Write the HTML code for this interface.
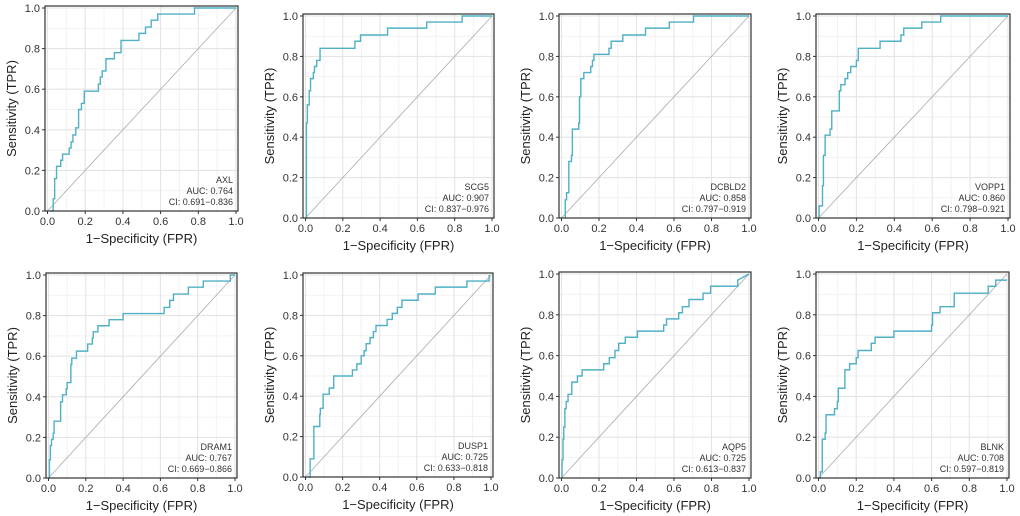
<!DOCTYPE html>
<html><head><meta charset="utf-8">
<style>
html,body{margin:0;padding:0;background:#fff;}
svg{display:block;font-family:"Liberation Sans",Arial,sans-serif;}
</style></head>
<body>
<svg id="chart" width="1020" height="516" viewBox="0 0 1020 516" xmlns="http://www.w3.org/2000/svg"></svg>
<script>
const genes = ["AXL","SCG5","DCBLD2","VOPP1","DRAM1","DUSP1","AQP5","BLNK"];
const aucs = ["0.764","0.907","0.858","0.860","0.767","0.725","0.725","0.708"];
const cis = ["0.691-0.836","0.837-0.976","0.797-0.919","0.798-0.921","0.669-0.866","0.633-0.818","0.613-0.837","0.597-0.819"];
const ticks = [0,0.2,0.4,0.6,0.8,1.0];
const tickLabels = ["0.0","0.2","0.4","0.6","0.8","1.0"];

const fprAXL = [0.018,0.03,0.038,0.048,0.07,0.08,0.115,0.125,0.135,0.15,0.165,0.18,0.195,0.27,0.28,0.29,0.31,0.355,0.39,0.485,0.52,0.55,0.585,0.78,1.0];
const tprAXL = [0,0.06,0.16,0.22,0.25,0.28,0.31,0.34,0.375,0.41,0.5,0.53,0.59,0.625,0.66,0.69,0.75,0.78,0.84,0.875,0.906,0.94,0.97,1.0,1.0];
const fprSCG5 = [0,0.005,0.01,0.02,0.027,0.042,0.048,0.06,0.078,0.265,0.295,0.44,0.65,0.84,1.0];
const tprSCG5 = [0,0.47,0.56,0.63,0.69,0.72,0.75,0.78,0.84,0.875,0.906,0.94,0.97,1.0,1.0];
const fprDCBLD2 = [0.018,0.02,0.027,0.039,0.053,0.058,0.092,0.096,0.103,0.119,0.156,0.165,0.173,0.253,0.265,0.327,0.448,0.575,0.704,1.0];
const tprDCBLD2 = [0,0.09,0.125,0.28,0.31,0.44,0.47,0.6,0.69,0.72,0.75,0.78,0.81,0.84,0.875,0.906,0.94,0.97,1.0,1.0];
const fprVOPP1 = [0,0.003,0.021,0.026,0.035,0.061,0.07,0.11,0.118,0.14,0.154,0.17,0.2,0.21,0.325,0.435,0.45,0.545,0.645,1.0];
const tprVOPP1 = [0,0.06,0.16,0.31,0.41,0.44,0.53,0.63,0.66,0.69,0.72,0.75,0.78,0.84,0.875,0.906,0.94,0.97,1.0,1.0];
const fprDRAM1 = [0,0.005,0.01,0.016,0.025,0.03,0.065,0.075,0.095,0.1,0.12,0.125,0.15,0.21,0.235,0.24,0.265,0.325,0.4,0.62,0.65,0.67,0.75,0.83,0.975,1.0];
const tprDRAM1 = [0,0.09,0.16,0.19,0.22,0.28,0.375,0.41,0.44,0.47,0.56,0.59,0.625,0.66,0.69,0.72,0.75,0.78,0.81,0.84,0.875,0.906,0.94,0.97,1.0,1.0];
const fprDUSP1 = [0.015,0.025,0.045,0.077,0.08,0.095,0.128,0.152,0.253,0.277,0.3,0.316,0.327,0.348,0.366,0.38,0.44,0.468,0.495,0.52,0.607,0.7,0.87,0.99];
const tprDUSP1 = [0,0.09,0.25,0.31,0.34,0.41,0.44,0.5,0.53,0.56,0.6,0.625,0.66,0.69,0.72,0.75,0.78,0.81,0.84,0.875,0.906,0.94,0.97,1.0];
const fprAQP5 = [0,0.003,0.008,0.012,0.018,0.025,0.035,0.055,0.085,0.11,0.225,0.255,0.285,0.305,0.34,0.405,0.545,0.56,0.625,0.645,0.68,0.755,0.795,0.94];
const tprAQP5 = [0,0.09,0.19,0.25,0.34,0.375,0.41,0.47,0.5,0.53,0.56,0.59,0.625,0.66,0.69,0.72,0.75,0.78,0.81,0.84,0.875,0.906,0.94,0.97];
const fprBLNK = [0.005,0.01,0.02,0.035,0.04,0.085,0.1,0.105,0.14,0.165,0.2,0.21,0.28,0.3,0.4,0.6,0.605,0.645,0.72,0.9,0.94,1.0];
const tprBLNK = [0,0.03,0.19,0.22,0.31,0.34,0.375,0.44,0.53,0.56,0.59,0.625,0.66,0.69,0.72,0.75,0.81,0.84,0.906,0.94,0.97,0.97];

const fprs = [fprAXL,fprSCG5,fprDCBLD2,fprVOPP1,fprDRAM1,fprDUSP1,fprAQP5,fprBLNK];
const tprs = [tprAXL,tprSCG5,tprDCBLD2,tprVOPP1,tprDRAM1,tprDUSP1,tprAQP5,tprBLNK];
const endOnDiag = [false,false,false,false,false,false,true,false];

// panel frames [left, top, right, bottom] (layout, not data)
const frames = [[45,6,238,211],[303,14,494,218],[559,14,751,218],[816,14,1010,218],
                [46,273,237,478],[303,273,493,477],[559,272,751,478],[816,272,1009,478]];

const NS = "http://www.w3.org/2000/svg";
const svg = document.getElementById("chart");
function mk(tag, attrs, parent){
  const e = document.createElementNS(NS, tag);
  for (const k in attrs) e.setAttribute(k, attrs[k]);
  (parent||svg).appendChild(e);
  return e;
}

frames.forEach((f, i) => {
  const [L,T,R,B] = f;
  const g = mk("g", {});
  
  
  const sx = v => (L + 2.5) + v * (R - 2 - (L + 2.5));
  const sy = v => B - v * (B - (T + 2));

  // minor grid
  for (let k = 1; k <= 9; k += 2) {
    const v = k / 10;
    const a = mk("line", {x1:sx(v),x2:sx(v),y1:T,y2:B,stroke:"#f2f2f2","stroke-width":1}, g);
    
    
    const b = mk("line", {x1:L,x2:R,y1:sy(v),y2:sy(v),stroke:"#f2f2f2","stroke-width":1}, g);
    
    
  }
  // major grid, ticks, labels
  ticks.forEach((v, j) => {
    const a = mk("line", {x1:sx(v),x2:sx(v),y1:T,y2:B,stroke:"#e4e4e4","stroke-width":1.1}, g);
    
    
    const b = mk("line", {x1:L,x2:R,y1:sy(v),y2:sy(v),stroke:"#e4e4e4","stroke-width":1.1}, g);
    
    
    const tx = mk("line", {x1:sx(v),x2:sx(v),y1:B,y2:B+3,stroke:"#333","stroke-width":1}, g);
    
    
    const ty = mk("line", {x1:L-3,x2:L,y1:sy(v),y2:sy(v),stroke:"#333","stroke-width":1}, g);
    
    
    const lx = mk("text", {x:sx(v),y:B+14,"text-anchor":"middle","font-size":11,fill:"#333"}, g);
    lx.textContent = tickLabels[j];
    
    
    const ly = mk("text", {x:L-5,y:sy(v)+4,"text-anchor":"end","font-size":11,fill:"#333"}, g);
    ly.textContent = tickLabels[j];
    
    
  });
  // diagonal
  const d = mk("line", {x1:sx(0),y1:sy(0),x2:sx(1),y2:sy(1),stroke:"#b0b0b0","stroke-width":0.9}, g);
  
  
  // ROC step curve
  const xs = fprs[i], ys = tprs[i];
  let p = "M" + sx(xs[0]).toFixed(2) + " " + sy(ys[0]).toFixed(2);
  for (let k = 1; k < xs.length; k++) {
    p += " H" + sx(xs[k]).toFixed(2) + " V" + sy(ys[k]).toFixed(2);
  }
  if (endOnDiag[i]) p += " L" + sx(1).toFixed(2) + " " + sy(1).toFixed(2);
  const c = mk("path", {d:p,fill:"none",stroke:"#4fb0c6","stroke-width":1.4}, g);
  
  
  // border
  const bd = mk("rect", {x:L,y:T,width:R-L,height:B-T,fill:"none",stroke:"#333","stroke-width":1.2}, g);
  
  
  // annotation
  const ann = [genes[i], "AUC: " + aucs[i], "CI: " + cis[i].replace("-", "\u2212")];
  const annNames = ['gene-label','auc-label','ci-label'];
  ann.forEach((t, k) => {
    const e = mk("text", {x:R-5,y:B-28+k*11,"text-anchor":"end","font-size":9,fill:"#333"}, g);
    e.textContent = t;
    
    
  });
  // axis titles
  const xt = mk("text", {x:(L+R)/2,y:B+32,"text-anchor":"middle","font-size":13,fill:"#222"}, g);
  xt.textContent = "1\u2212Specificity (FPR)";
  
  
  const yc = (T+B)/2, xc = L-29;
  const yt = mk("text", {x:xc,y:yc,"text-anchor":"middle","font-size":13,fill:"#222",transform:"rotate(-90 "+xc+" "+yc+")"}, g);
  yt.textContent = "Sensitivity (TPR)";
  
  
});
</script>
</body></html>
